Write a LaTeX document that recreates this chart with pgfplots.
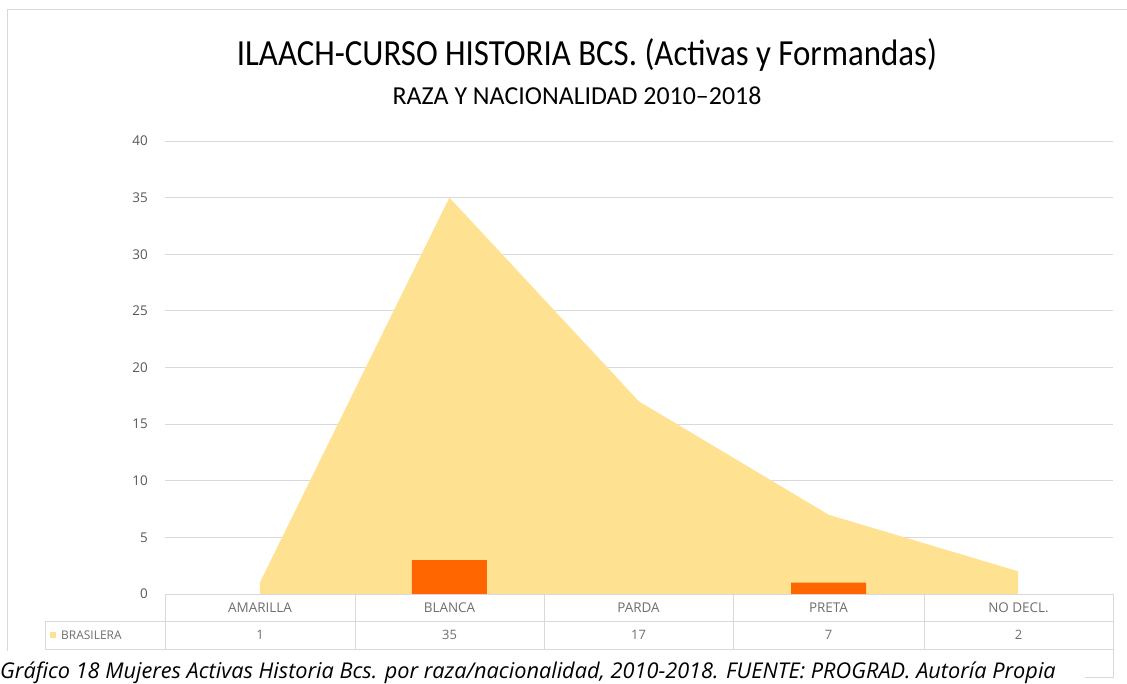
\documentclass[border=0pt]{standalone}
\usepackage{pgfplots}
\pgfplotsset{compat=1.18}
\usepackage{fontspec}
\setmainfont{Open Sans}
\newfontfamily\titlefont{Carlito}
\definecolor{areaC}{RGB}{254,225,145}
\definecolor{barC}{RGB}{255,102,0}
\definecolor{gridC}{RGB}{217,217,217}
\definecolor{tickC}{RGB}{89,89,89}
\definecolor{catC}{RGB}{110,110,110}
\begin{document}
\begin{tikzpicture}[x=1bp,y=1bp]
\clip (0,0) rectangle (1127,-684);
\fill[white] (0,0) rectangle (1127,-684);
\draw[gridC, line width=1bp] (7,-651) -- (7,-10) -- (1127,-10);
\node[anchor=base, inner sep=0, font=\titlefont\fontsize{33}{36}\selectfont] at (587,-66) {\scalebox{1}[1.12]{ILAACH-CURSO HISTORIA BCS. (Activas y Formandas)}};
\node[anchor=base, inner sep=0, font=\titlefont\fontsize{26}{30}\selectfont] at (577,-105) {RAZA Y NACIONALIDAD 2010–2018};
\begin{axis}[at={(165bp,-594bp)}, anchor=south west, scale only axis,
  width=948bp, height=453bp,
  xmin=-0.5, xmax=4.5, ymin=0, ymax=40,
  ytick={0,5,...,40}, xtick=\empty,
  ymajorgrids, grid style={gridC, line width=1bp},
  axis line style={draw=none}, major tick length=0pt,
  yticklabel style={font=\fontsize{13.5}{15}\selectfont, text=tickC, inner sep=0pt, xshift=-17bp},
  /pgf/number format/assume math mode=true,
  clip=false]
\addplot[fill=areaC, draw=none] coordinates {(0,1) (1,35) (2,17) (3,7) (4,2)} \closedcycle;
\addplot[ybar, bar width=75bp, bar shift=0pt, fill=barC, draw=none] coordinates {(1,3) (3,1)};
\end{axis}
% data table
\begin{scope}[gridC, line width=1bp]
\draw (165,-594) -- (1113,-594);
\draw (45,-621) -- (1113,-621);
\draw (45,-649) -- (1113,-649);
\foreach \x in {165,355,544,733,924} \draw (\x,-594) -- (\x,-649);
\draw (45,-621) -- (45,-649);
\draw (1113,-594) -- (1113,-677) -- (1085,-677);
\end{scope}
\fill[areaC] (50,-632) rectangle (56,-638);
\node[anchor=west, inner sep=0, text=catC, font=\fontsize{12}{14}\selectfont] at (61,-635) {BRASILERA};
\foreach \x/\c/\v in {260/AMARILLA/1, 449.5/BLANCA/35, 638.5/PARDA/17, 828.5/PRETA/7, 1018.5/NO DECL./2}{
  \node[text=catC, inner sep=0, font=\fontsize{13.5}{15}\selectfont] at (\x,-608) {\c};
  \node[text=catC, inner sep=0, font=\fontsize{13}{15}\selectfont] at (\x,-635) {\v};
}
\fill[white] (0,-651) rectangle (1084,-684);
\node[anchor=base west, inner sep=0, font=\itshape\fontsize{21.8}{24}\selectfont] at (0,-678) {Gráfico 18 Mujeres Activas Historia Bcs. por raza/nacionalidad, 2010-2018. FUENTE: PROGRAD. Autoría Propia};
\end{tikzpicture}
\end{document}
